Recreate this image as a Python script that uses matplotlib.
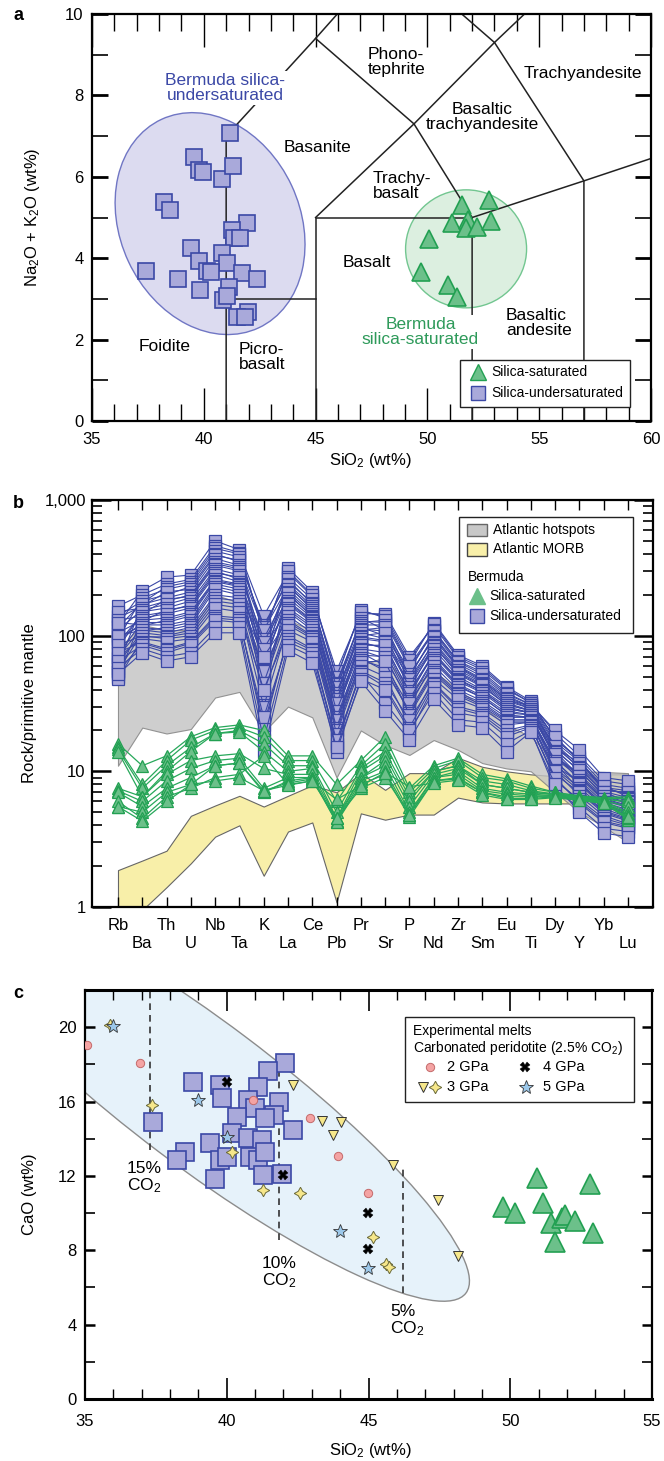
import numpy as np
import matplotlib
matplotlib.use('Agg')
import matplotlib.pyplot as plt
from matplotlib.patches import Ellipse, Rectangle
from matplotlib.transforms import ScaledTranslation
from matplotlib.ticker import MultipleLocator, FixedLocator, LogLocator, NullFormatter

plt.rcParams['font.family'] = ['Liberation Sans', 'DejaVu Sans']
plt.rcParams['mathtext.fontset'] = 'custom'
plt.rcParams['mathtext.rm'] = 'Liberation Sans'
plt.rcParams['mathtext.it'] = 'Liberation Sans:italic'
plt.rcParams['mathtext.bf'] = 'Liberation Sans:bold'
plt.rcParams['font.size'] = 12

# colours
SQ_FACE = '#a9a9da'
SQ_EDGE = '#3b48a6'
TRI_FACE = '#6cc08a'
TRI_EDGE = '#22a052'
BLUE_TXT = '#3b48a6'
GREEN_TXT = '#2e9a5a'

# ---------------- panel a: TAS ----------------
under_sio2 = [41.17, 39.56, 39.79, 39.96, 40.81, 41.31, 38.22, 38.49, 41.93, 41.28,
              41.33, 41.60, 39.42, 40.80, 41.03, 39.79, 40.13, 40.30, 37.40, 38.83,
              39.83, 41.72, 42.37, 41.14, 40.87, 41.05, 41.99, 41.50, 41.84]
under_alk = [7.08, 6.49, 6.17, 6.12, 5.94, 6.27, 5.38, 5.18, 4.87, 4.69,
             4.49, 4.50, 4.26, 4.12, 3.89, 3.94, 3.69, 3.67, 3.68, 3.50,
             3.22, 3.64, 3.50, 3.29, 2.97, 3.06, 2.68, 2.56, 2.56]
sat_sio2 = [51.55, 52.75, 51.10, 51.82, 51.73, 52.22, 52.84, 50.07, 49.71, 50.92, 51.32]
sat_alk = [5.30, 5.43, 4.86, 4.94, 4.74, 4.76, 4.92, 4.47, 3.66, 3.34, 3.05]

tas_lines = [
    [(41, 0), (41, 7), (45, 9.4), (48.4, 11.5)],
    [(41, 3), (45, 3)],
    [(45, 0), (45, 5), (52, 5)],
    [(45, 5), (49.4, 7.3), (53, 9.3), (57.6, 11.7)],
    [(45, 9.4), (49.4, 7.3), (52, 5), (52, 0)],
    [(48.4, 11.5), (53, 9.3), (57, 5.9), (57, 0)],
    [(52, 5), (57, 5.9), (63, 7)],
]
tas_names = [
    ('Phono-\ntephrite', 47.34, 8.82, 'left'),
    ('Trachyandesite', 56.94, 8.55, 'center'),
    ('Basaltic\ntrachyandesite', 52.44, 7.47, 'center'),
    ('Basanite', 45.10, 6.71, 'center'),
    ('Trachy-\nbasalt', 47.57, 5.77, 'left'),
    ('Basalt', 47.27, 3.90, 'center'),
    ('Foidite', 38.26, 1.82, 'center'),
    ('Picro-\nbasalt', 41.57, 1.57, 'left'),
    ('Basaltic\nandesite', 53.52, 2.41, 'left'),
]

# ---------------- panel b: spider diagram ----------------
elements = ['Rb', 'Ba', 'Th', 'U', 'Nb', 'Ta', 'K', 'La', 'Ce', 'Pb', 'Pr',
            'Sr', 'P', 'Nd', 'Zr', 'Sm', 'Eu', 'Ti', 'Dy', 'Y', 'Yb', 'Lu']

hotspot_upper = [80, 120, 110, 110, 200, 175, 60, 130, 110, 25, 60,
                 70, 40, 55, 40, 30, 22, 18, 12, 10, 9.9, 9.7]
hotspot_lower = [11, 21, 19, 20.5, 35, 38.5, 19.5, 30, 25, 9, 20,
                 15.6, 13.2, 17, 14.4, 11.5, 10.5, 10, 7, 5, 3.9, 3.0]
morb_upper = [1.87, 2.2, 2.6, 4.7, 5.6, 6.6, 5.5, 6.6, 7.9, 7.0, 9.7,
              7.3, 9.7, 9.7, 12.6, 10.8, 10.0, 9.5, 9.2, 9.3, 9.5, 9.5]
morb_lower = [0.75, 0.95, 1.4, 2.1, 3.3, 4.0, 1.7, 3.6, 4.2, 1.08, 4.9,
              4.4, 4.8, 4.8, 6.4, 5.9, 5.8, 5.8, 5.8, 5.8, 5.8, 5.8]

under_spider = [
    [120, 215, 270, 280, 500, 430, 100, 315, 210, 48, 155, 135, 62, 125, 72, 60, 42, 33, 17, 12.5, 8.0, 7.5],
    [165, 200, 240, 260, 460, 410, 140, 290, 195, 55, 145, 145, 70, 118, 68, 56, 40, 32, 19, 13, 8.5, 8.0],
    [115, 175, 230, 250, 440, 400, 105, 300, 200, 50, 150, 140, 66, 122, 70, 58, 41, 32, 17.5, 12, 7.6, 7.2],
    [95, 190, 220, 240, 420, 380, 60, 270, 185, 40, 135, 110, 55, 110, 65, 54, 38, 31, 20, 14.4, 9.0, 8.5],
    [140, 180, 200, 230, 400, 350, 120, 250, 175, 45, 128, 125, 58, 105, 62, 50, 36, 30, 16, 11, 7.5, 6.8],
    [135, 165, 210, 220, 390, 360, 115, 260, 170, 44, 125, 130, 60, 108, 64, 52, 37, 31, 16.5, 11.8, 7.4, 6.9],
    [60, 170, 190, 210, 370, 330, 85, 240, 165, 30, 120, 120, 50, 100, 60, 48, 35, 30, 18, 12, 7.2, 7.0],
    [150, 160, 180, 200, 350, 320, 110, 230, 160, 42, 115, 100, 52, 95, 58, 46, 34, 29, 15, 11.5, 7.8, 6.5],
    [88, 145, 185, 195, 340, 310, 78, 235, 155, 37, 112, 108, 50, 98, 59, 47, 34, 30, 15, 10.8, 7.1, 6.4],
    [110, 155, 170, 190, 330, 300, 35, 220, 150, 38, 110, 115, 45, 90, 56, 45, 33, 29, 14.5, 10, 6.8, 6.2],
    [80, 150, 160, 180, 310, 280, 95, 210, 145, 36, 105, 95, 48, 88, 54, 44, 32, 28, 15.5, 10.5, 7.0, 6.0],
    [130, 140, 150, 170, 300, 260, 75, 200, 140, 26, 100, 105, 40, 85, 52, 42, 31, 28, 13, 9.5, 6.5, 5.8],
    [72, 128, 155, 165, 290, 270, 58, 205, 138, 33, 98, 92, 44, 84, 53, 43, 31, 28, 14.2, 10.2, 6.6, 5.9],
    [50, 135, 145, 160, 280, 250, 90, 190, 135, 34, 95, 90, 42, 80, 50, 40, 30, 27, 14, 9.2, 6.3, 5.6],
    [105, 130, 135, 150, 260, 240, 65, 180, 130, 29, 90, 80, 36, 75, 48, 39, 29, 27, 12.5, 9.0, 6.1, 5.4],
    [98, 118, 130, 145, 255, 235, 68, 175, 128, 27, 88, 82, 39, 74, 47, 39, 29, 27, 12.8, 9.3, 6.2, 5.5],
    [90, 125, 125, 140, 250, 230, 50, 170, 125, 32, 85, 85, 38, 72, 46, 38, 28, 26, 13.5, 8.6, 5.9, 5.2],
    [125, 120, 120, 130, 240, 220, 80, 160, 120, 28, 80, 75, 34, 68, 44, 36, 27, 26, 11, 8.3, 5.7, 5.0],
    [62, 108, 115, 125, 230, 210, 48, 155, 115, 23, 78, 68, 33, 66, 43, 35, 26, 25, 11.8, 8.2, 5.6, 4.9],
    [70, 115, 110, 120, 220, 200, 55, 150, 110, 25, 75, 60, 30, 64, 42, 35, 26, 25, 12, 8.0, 5.5, 4.8],
    [100, 110, 105, 115, 200, 190, 45, 140, 105, 22, 72, 70, 32, 60, 40, 33, 25, 25, 10.5, 7.6, 5.3, 4.6],
    [55, 105, 100, 110, 190, 180, 70, 130, 100, 24, 68, 55, 28, 56, 38, 32, 24, 24, 11.5, 7.3, 5.1, 4.5],
    [68, 98, 98, 105, 180, 170, 38, 125, 98, 21, 66, 58, 27, 54, 37, 31, 23.5, 23.5, 10.2, 7.2, 5.0, 4.4],
    [85, 100, 95, 100, 170, 160, 30, 120, 95, 20, 64, 65, 26, 52, 36, 30, 23, 23, 9.5, 7.0, 4.9, 4.3],
    [48, 95, 90, 95, 160, 150, 40, 110, 90, 19, 60, 50, 22, 48, 34, 29, 22, 23, 10, 6.6, 4.7, 4.1],
    [75, 90, 80, 90, 140, 135, 20, 100, 80, 16, 55, 45, 24, 45, 30, 27, 20, 22, 8.5, 6.2, 4.5, 4.0],
    [54, 88, 78, 88, 135, 130, 22, 95, 78, 15.5, 54, 42, 21, 44, 29, 26, 19, 21.5, 8.8, 6.0, 4.3, 3.9],
    [65, 85, 75, 85, 130, 125, 25, 90, 75, 17, 52, 32, 19, 42, 27, 25, 18, 21, 9.0, 5.8, 4.2, 3.8],
    [58, 80, 70, 75, 115, 115, 17, 85, 70, 14, 48, 40, 20, 38, 24, 23, 16, 20, 7.3, 5.4, 3.8, 3.6],
    [52, 75, 65, 70, 105, 105, 14, 78, 63, 15, 46, 28, 17, 34, 22, 21, 14, 19.5, 8.0, 5.0, 3.5, 3.3],
]
sat_spider = [
    [16, 11, 13, 18, 21, 22, 20, 13, 13, 8.0, 12, 18, 7.5, 11, 12.5, 9.5, 8.8, 7.8, 7.0, 6.6, 6.4, 6.5],
    [15, 8, 12, 17, 20, 21, 18, 12, 12, 6.0, 11, 16, 7.0, 10.5, 12, 9.0, 8.5, 7.5, 7.0, 6.5, 6.3, 6.3],
    [14.5, 7.5, 11, 15, 19, 20, 16, 11, 11, 5.0, 10.5, 14, 6.5, 10, 11, 8.5, 8.0, 7.2, 6.8, 6.5, 6.2, 6.0],
    [14, 6.5, 10, 14, 19, 19.5, 14, 10, 10.5, 4.5, 10, 13, 6.0, 10, 11, 8.0, 7.5, 7.0, 6.8, 6.4, 6.1, 5.5],
    [7.5, 6.5, 9.5, 12, 13, 13.5, 10.5, 9.5, 9.5, 4.5, 9, 12, 5.5, 9.5, 10.5, 8.0, 7.5, 7.0, 6.7, 6.4, 6.0, 5.0],
    [7.2, 6.0, 8.5, 10.5, 12, 12.5, 7.5, 9.0, 9.0, 4.3, 9, 11, 5.0, 9, 10, 7.5, 7.0, 6.8, 6.6, 6.3, 6.0, 4.8],
    [7.0, 5.5, 7.5, 9, 11, 11.5, 7.0, 8.5, 9.0, 4.2, 8.5, 10, 4.8, 9, 9.5, 7.2, 6.8, 6.6, 6.6, 6.3, 5.9, 4.6],
    [5.5, 5.0, 7.0, 8.0, 11, 11.5, 7.2, 8.2, 8.8, 4.2, 8.0, 9.5, 4.6, 8.5, 9.0, 7.0, 6.5, 6.5, 6.5, 6.2, 5.9, 4.4],
    [6.0, 4.5, 6.5, 7.5, 9.0, 9.5, 13, 8.0, 8.5, 4.5, 7.5, 9.0, 4.8, 8.5, 8.8, 7.0, 6.3, 6.3, 6.5, 6.2, 5.8, 4.5],
    [5.5, 4.3, 6.0, 8.0, 8.5, 9.0, 7.2, 7.9, 8.5, 6.2, 7.8, 9.8, 7.7, 8.2, 8.6, 6.7, 6.2, 6.2, 6.4, 6.1, 5.8, 4.6],
]

# ---------------- panel c: CaO vs SiO2 ----------------
c_under_sio2 = [42.05, 41.46, 38.81, 39.76, 41.10, 39.83, 40.75, 41.84, 41.00, 41.67,
                41.35, 40.36, 37.40, 42.34, 40.18, 40.75, 41.24, 39.41, 38.53, 38.24,
                39.76, 40.00, 40.82, 41.10, 41.35, 41.28, 41.95, 39.59]
c_under_cao = [18.06, 17.63, 17.04, 16.88, 16.77, 16.18, 16.08, 15.97, 15.65, 15.27,
               15.11, 15.16, 14.89, 14.46, 14.30, 14.03, 13.92, 13.76, 13.28, 12.85,
               12.85, 13.01, 13.01, 12.85, 13.28, 12.04, 12.10, 11.83]
c_sat_sio2 = [50.94, 52.81, 49.74, 50.17, 51.16, 51.44, 51.83, 51.93, 52.28, 51.58, 52.92]
c_sat_cao = [11.88, 11.56, 10.32, 10.00, 10.54, 9.46, 9.73, 9.89, 9.57, 8.44, 8.92]

gpa2_sio2 = [35.07, 36.94, 40.93, 42.94, 43.93, 44.98]
gpa2_cao = [19.03, 18.06, 16.08, 15.11, 13.06, 11.08]
gpa3_tri_sio2 = [42.34, 43.36, 44.03, 43.75, 45.86, 47.45, 48.16]
gpa3_tri_cao = [16.88, 14.95, 14.89, 14.19, 12.58, 10.70, 7.69]
gpa3_star_sio2 = [35.88, 37.36, 40.19, 41.28, 42.58, 45.16, 45.62, 45.72]
gpa3_star_cao = [20.10, 15.80, 13.28, 11.24, 11.08, 8.71, 7.26, 7.10]
gpa4_sio2 = [40.00, 41.98, 44.98, 44.98]
gpa4_cao = [17.04, 12.04, 10.00, 8.06]
gpa5_sio2 = [35.99, 38.99, 40.00, 43.99, 44.98]
gpa5_cao = [20.05, 16.08, 14.09, 9.03, 7.04]

co2_sio2 = [37.3, 41.85, 46.2]
co2_top = [22.0, 18.5, 12.6]
co2_bottom = [13.4, 8.55, 5.7]
co2_labels = ['15%\nCO$_2$', '10%\nCO$_2$', '5%\nCO$_2$']
co2_label_xy = [(36.48, 11.88), (41.24, 6.77), (45.76, 4.19)]


def ellipse_at(ax, fig, cx, cy, w_in, h_in, angle, **kw):
    # ellipse sized in inches, centred on a data point
    tr = fig.dpi_scale_trans + ScaledTranslation(cx, cy, ax.transData)
    e = Ellipse((0, 0), w_in, h_in, angle=angle, transform=tr, **kw)
    ax.add_patch(e)
    return e


fig = plt.figure(figsize=(6.64, 14.61), dpi=100)

# ======== a ========
ax = fig.add_axes([92 / 664, 1 - 421 / 1461, 559 / 664, 407 / 1461])
ax.set_xlim(35, 60)
ax.set_ylim(0, 10)
ellipse_at(ax, fig, 40.28, 4.85, 1.80, 2.30, 25, facecolor='#dcdbf0',
           edgecolor='#7076c4', lw=1.0, zorder=1)
ellipse_at(ax, fig, 51.73, 4.23, 1.21, 1.18, 0, facecolor='#dcefe0',
           edgecolor='#72c690', lw=1.0, zorder=1)
for seg in tas_lines:
    xs, ys = zip(*seg)
    ax.plot(xs, ys, color='#222222', lw=1.1, zorder=2)
ax.plot(under_sio2, under_alk, 's', ms=11, mfc=SQ_FACE, mec=SQ_EDGE, mew=1.2, zorder=3)
ax.plot(sat_sio2, sat_alk, '^', ms=13, mfc=TRI_FACE, mec=TRI_EDGE, mew=1.2, zorder=3)
for name, x, y, ha in tas_names:
    ax.text(x, y, name, ha=ha, va='center', fontsize=12.5, linespacing=1.05, zorder=4)
ax.text(40.97, 8.18, 'Bermuda silica-\nundersaturated', color=BLUE_TXT, ha='center',
        va='center', fontsize=12.5, linespacing=1.05, zorder=4,
        bbox=dict(facecolor='white', edgecolor='none', pad=1))
ax.text(49.69, 2.19, 'Bermuda\nsilica-saturated', color=GREEN_TXT, ha='center',
        va='center', fontsize=12.5, linespacing=1.05, zorder=4,
        bbox=dict(facecolor='white', edgecolor='none', pad=1))
# legend a
ax.add_patch(Rectangle((0.658, 0.034), 0.304, 0.116, transform=ax.transAxes,
                       facecolor='white', edgecolor='#222222', lw=1.0, zorder=5))
ax.plot([0.690], [0.120], '^', ms=12, mfc=TRI_FACE, mec=TRI_EDGE, mew=1.0,
        transform=ax.transAxes, zorder=6, clip_on=False)
ax.plot([0.690], [0.069], 's', ms=10, mfc=SQ_FACE, mec=SQ_EDGE, mew=1.0,
        transform=ax.transAxes, zorder=6, clip_on=False)
ax.text(0.714, 0.120, 'Silica-saturated', transform=ax.transAxes, fontsize=10,
        va='center', zorder=6)
ax.text(0.714, 0.069, 'Silica-undersaturated', transform=ax.transAxes, fontsize=10,
        va='center', zorder=6)

ax.xaxis.set_major_locator(MultipleLocator(5))
ax.xaxis.set_minor_locator(MultipleLocator(1))
ax.yaxis.set_major_locator(MultipleLocator(2))
ax.yaxis.set_minor_locator(MultipleLocator(1))
ax.tick_params(axis='x', which='major', direction='in', length=24, width=1.0,
               top=True, bottom=True, labelsize=12, pad=8)
ax.tick_params(axis='x', which='minor', direction='in', length=12, width=1.0,
               top=True, bottom=True)
ax.tick_params(axis='y', which='major', direction='in', length=11.5, width=2.0,
               left=True, right=True, labelsize=12, pad=6)
ax.tick_params(axis='y', which='minor', direction='in', length=11.5, width=1.2,
               left=True, right=True)
for s in ax.spines.values():
    s.set_linewidth(1.6)
ax.set_xlabel('SiO$_2$ (wt%)', fontsize=12)
ax.set_ylabel('Na$_2$O + K$_2$O (wt%)', fontsize=12)
ax.xaxis.set_label_coords(0.499, -0.074)
ax.yaxis.set_label_coords(-0.089, 0.5)

# ======== b ========
bx = fig.add_axes([92 / 664, 1 - 907 / 1461, 561 / 664, 407 / 1461])
xi = np.arange(len(elements))
bx.set_yscale('log')
bx.set_xlim(-1.07, len(elements) - 1 + 1.03)
bx.set_ylim(1, 1000)
bx.fill_between(xi, morb_lower, morb_upper, facecolor='#f8efa9', edgecolor='#666666',
                lw=0.8, zorder=1)
bx.fill_between(xi, hotspot_lower, hotspot_upper, facecolor='#c4c4c4', edgecolor='#808080',
                lw=0.8, alpha=0.82, zorder=1.5)
for row in under_spider:
    bx.plot(xi, row, '-s', color=SQ_EDGE, lw=0.8, ms=8, mfc=SQ_FACE, mec=SQ_EDGE,
            mew=0.9, zorder=2)
for row in sat_spider:
    bx.plot(xi, row, '-^', color='#27a85a', lw=0.9, ms=8.5, mfc=TRI_FACE, mec=TRI_EDGE,
            mew=0.9, zorder=3)
bx.set_xticks(xi)
bx.set_xticklabels([e if i % 2 == 0 else '\n' + e for i, e in enumerate(elements)],
                   linespacing=1.25)
bx.yaxis.set_major_locator(FixedLocator([1, 10, 100, 1000]))
bx.set_yticklabels(['1', '10', '100', '1,000'])
bx.yaxis.set_minor_locator(LogLocator(base=10, subs=np.arange(2, 10)))
bx.yaxis.set_minor_formatter(NullFormatter())
bx.tick_params(axis='x', which='major', direction='in', length=7, width=1.0,
               top=True, bottom=True, labelsize=12, pad=8)
bx.tick_params(axis='y', which='major', direction='in', length=14, width=1.8,
               left=True, right=True, labelsize=12, pad=4.5)
bx.tick_params(axis='y', which='minor', direction='in', length=7, width=1.2,
               left=True, right=True)
for s in bx.spines.values():
    s.set_linewidth(1.6)
bx.set_ylabel('Rock/primitive mantle', fontsize=12)
bx.yaxis.set_label_coords(-0.098, 0.5)
# legend b
bx.add_patch(Rectangle((0.654, 0.673), 0.310, 0.285, transform=bx.transAxes,
                       facecolor='white', edgecolor='#222222', lw=1.0, zorder=5))
bx.add_patch(Rectangle((0.668, 0.912), 0.036, 0.029, transform=bx.transAxes,
                       facecolor='#c8c8c8', edgecolor='#666666', lw=1.0, zorder=6))
bx.add_patch(Rectangle((0.668, 0.862), 0.036, 0.032, transform=bx.transAxes,
                       facecolor='#f8efa9', edgecolor='#444444', lw=1.0, zorder=6))
bx.text(0.715, 0.926, 'Atlantic hotspots', transform=bx.transAxes, fontsize=10,
        va='center', zorder=6)
bx.text(0.715, 0.879, 'Atlantic MORB', transform=bx.transAxes, fontsize=10,
        va='center', zorder=6)
bx.text(0.670, 0.811, 'Bermuda', transform=bx.transAxes, fontsize=10,
        va='center', zorder=6)
bx.plot([0.686], [0.764], '^', ms=11, mfc=TRI_FACE, mec=TRI_FACE, transform=bx.transAxes,
        zorder=6, clip_on=False)
bx.plot([0.686], [0.715], 's', ms=10, mfc=SQ_FACE, mec=SQ_EDGE, mew=1.0,
        transform=bx.transAxes, zorder=6, clip_on=False)
bx.text(0.709, 0.764, 'Silica-saturated', transform=bx.transAxes, fontsize=10,
        va='center', zorder=6)
bx.text(0.709, 0.715, 'Silica-undersaturated', transform=bx.transAxes, fontsize=10,
        va='center', zorder=6)

# ======== c ========
cx = fig.add_axes([85 / 664, 1 - 1399 / 1461, 567 / 664, 409 / 1461])
cx.set_xlim(35, 55)
cx.set_ylim(0, 22)
ellipse_at(cx, fig, 39.14, 16.38, 6.6, 1.44, -37, facecolor='#e6f2fa',
           edgecolor='#8c8c8c', lw=1.0, zorder=0.5)
for x, y0, y1 in zip(co2_sio2, co2_bottom, co2_top):
    cx.plot([x, x], [y0, y1], color='#333333', lw=1.2, ls=(0, (4, 3)), zorder=2)
for lab, (x, y) in zip(co2_labels, co2_label_xy):
    cx.text(x, y, lab, ha='left', va='center', fontsize=12.5, linespacing=1.0, zorder=2)
cx.plot(c_under_sio2, c_under_cao, 's', ms=12.5, mfc=SQ_FACE, mec=SQ_EDGE, mew=1.2, zorder=3)
cx.plot(c_sat_sio2, c_sat_cao, '^', ms=15, mfc=TRI_FACE, mec=TRI_EDGE, mew=1.2, zorder=3)
cx.plot(gpa2_sio2, gpa2_cao, 'o', ms=6, mfc='#f4a3a3', mec='#c46a6a', mew=0.7, zorder=4)
cx.plot(gpa3_tri_sio2, gpa3_tri_cao, 'v', ms=7, mfc='#f6e78a', mec='#333333', mew=0.7, zorder=4)
cx.plot(gpa3_star_sio2, gpa3_star_cao, marker=(4, 1, 0), ls='none', ms=9, mfc='#f6e78a',
        mec='#6a6a3a', mew=0.7, zorder=4)
cx.plot(gpa4_sio2, gpa4_cao, 'X', ms=7, mfc='black', mec='black', mew=0.3, zorder=4)
cx.plot(gpa5_sio2, gpa5_cao, '*', ms=10, mfc='#9cc8ea', mec='#333333', mew=0.6, zorder=4)
# legend c
cx.add_patch(Rectangle((0.564, 0.726), 0.404, 0.208, transform=cx.transAxes,
                       facecolor='white', edgecolor='#222222', lw=1.0, zorder=5))
cx.text(0.5785, 0.900, 'Experimental melts', transform=cx.transAxes, fontsize=10,
        va='center', zorder=6)
cx.text(0.5785, 0.858, 'Carbonated peridotite (2.5% CO$_2$)', transform=cx.transAxes,
        fontsize=10, va='center', zorder=6)
cx.plot([0.608], [0.812], 'o', ms=6, mfc='#f4a3a3', mec='#c46a6a', mew=0.7,
        transform=cx.transAxes, zorder=6, clip_on=False)
cx.plot([0.596], [0.763], 'v', ms=7, mfc='#f6e78a', mec='#333333', mew=0.7,
        transform=cx.transAxes, zorder=6, clip_on=False)
cx.plot([0.617], [0.763], marker=(4, 1, 0), ms=9, mfc='#f6e78a', mec='#6a6a3a', mew=0.7,
        transform=cx.transAxes, zorder=6, clip_on=False)
cx.plot([0.776], [0.812], 'X', ms=7, mfc='black', mec='black', mew=0.3,
        transform=cx.transAxes, zorder=6, clip_on=False)
cx.plot([0.778], [0.763], '*', ms=10, mfc='#9cc8ea', mec='#333333', mew=0.6,
        transform=cx.transAxes, zorder=6, clip_on=False)
for x, y, t in [(0.638, 0.812, '2 GPa'), (0.638, 0.763, '3 GPa'),
                (0.808, 0.812, '4 GPa'), (0.808, 0.763, '5 GPa')]:
    cx.text(x, y, t, transform=cx.transAxes, fontsize=10.5, va='center', zorder=6)

cx.xaxis.set_major_locator(MultipleLocator(5))
cx.xaxis.set_minor_locator(MultipleLocator(1))
cx.yaxis.set_major_locator(MultipleLocator(4))
cx.yaxis.set_minor_locator(MultipleLocator(2))
cx.tick_params(axis='x', which='major', direction='in', length=15, width=1.2,
               top=True, bottom=True, labelsize=12, pad=11)
cx.tick_params(axis='x', which='minor', direction='in', length=7, width=1.0,
               top=True, bottom=True)
cx.tick_params(axis='y', which='major', direction='in', length=7, width=1.8,
               left=True, right=True, labelsize=12, pad=6)
cx.tick_params(axis='y', which='minor', direction='in', length=7, width=1.2,
               left=True, right=True)
for s in cx.spines.values():
    s.set_linewidth(1.6)
cx.spines['bottom'].set_linewidth(2.2)
cx.spines['top'].set_linewidth(2.2)
cx.set_xlabel('SiO$_2$ (wt%)', fontsize=12)
cx.set_ylabel('CaO (wt%)', fontsize=12)
cx.xaxis.set_label_coords(0.503, -0.103)
cx.yaxis.set_label_coords(-0.085, 0.5)

# panel letters
fig.text(18 / 664, 1 - 15 / 1461, 'a', fontsize=13, fontweight='bold', ha='center', va='center')
fig.text(18 / 664, 1 - 503 / 1461, 'b', fontsize=13, fontweight='bold', ha='center', va='center')
fig.text(18 / 664, 1 - 993 / 1461, 'c', fontsize=13, fontweight='bold', ha='center', va='center')

fig.savefig('out.png', dpi=100)
